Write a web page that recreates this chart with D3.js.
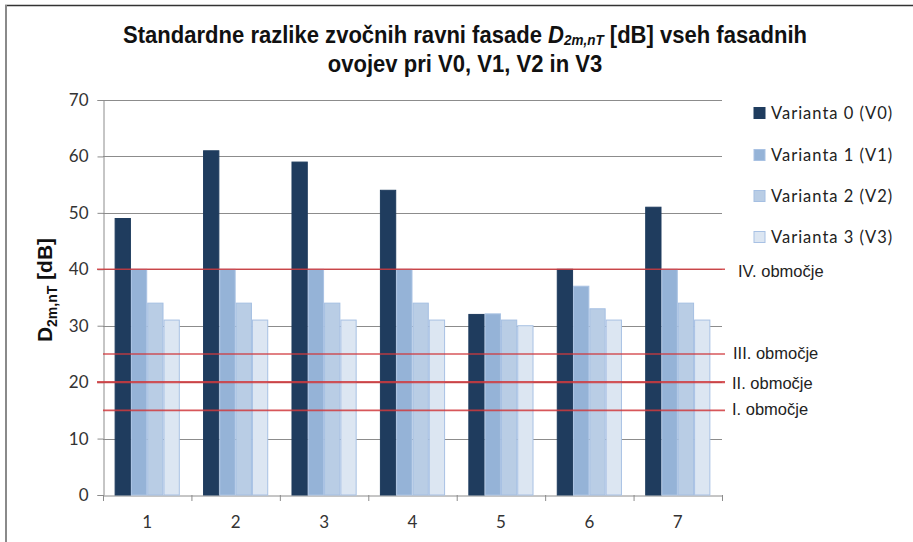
<!DOCTYPE html>
<html><head><meta charset="utf-8">
<script src="https://cdn.jsdelivr.net/npm/d3@7"></script>
<style>body{margin:0;background:#fff}svg{display:block}</style>
</head><body>
<svg id="c" width="913" height="542"></svg>
<script>
const categories = ["1","2","3","4","5","6","7"];
const seriesNames = ["Varianta 0 (V0)","Varianta 1 (V1)","Varianta 2 (V2)","Varianta 3 (V3)"];
const v0 = [49,61,59,54,32,40,51];
const v1 = [40,40,40,40,32.1,37,40];
const v2 = [34,34,34,34,31,33,34];
const v3 = [31,31,31,31,30,31,31];
const yTicks = [0,10,20,30,40,50,60,70];
const zoneValues = [40,25,20,15];
const zoneLabels = ["IV. območje","III. območje","II. območje","I. območje"];
const colors = ["#1f3c5e","#95b3d7","#b9cde5","#dce6f2"];
const strokes = ["#1f3c5e","#a9c2e3","#a5bfe2","#a8c1e4"];

const series = [v0,v1,v2,v3];
const svg = d3.select("#c");
const L=103,R=722,T=100,B=495;

// frame
svg.append("line").attr("x1",5).attr("x2",913).attr("y1",5.5).attr("y2",5.5).attr("stroke","#333").attr("stroke-width",1.5);
svg.append("line").attr("x1",6).attr("x2",6).attr("y1",5).attr("y2",542).attr("stroke","#8a8a8a").attr("stroke-width",2);

const y = d3.scaleLinear().domain([0,70]).range([B,T]);
const x0 = d3.scaleBand().domain(categories).range([L,R]).paddingInner(0.263).paddingOuter(0.1315);
const x1 = d3.scaleBand().domain(d3.range(4)).range([0,x0.bandwidth()]);
const xc = d3.scaleBand().domain(categories).range([L,R]);

// gridlines
svg.append("g").selectAll("line").data(yTicks.filter(d=>d>0)).join("line")
  .attr("x1",L).attr("x2",R).attr("y1",d=>Math.round(y(d))+0.5).attr("y2",d=>Math.round(y(d))+0.5)
  .attr("stroke","#8c8c8c").attr("stroke-width",1);

// y axis
const ya = svg.append("g").attr("transform",`translate(${L+0.5},0)`)
  .call(d3.axisLeft(y).tickValues(yTicks).tickSize(6).tickPadding(9));
ya.select(".domain").attr("stroke","#8c8c8c");
ya.selectAll(".tick line").attr("stroke","#8c8c8c");
ya.selectAll("text").attr("font-family","Lato, 'Open Sans', sans-serif").attr("font-size",17).attr("fill","#333");

// x axis
const xa = svg.append("g").attr("transform",`translate(0,${B+0.5})`)
  .call(d3.axisBottom(xc).tickSize(0).tickPadding(20));
xa.select(".domain").attr("stroke","#8c8c8c");
xa.selectAll("text").attr("font-family","Lato, 'Open Sans', sans-serif").attr("font-size",17).attr("fill","#333");
svg.append("g").selectAll("line").data(d3.range(categories.length+1)).join("line")
  .attr("x1",i=>L+i*xc.step()+0.5).attr("x2",i=>L+i*xc.step()+0.5)
  .attr("y1",B).attr("y2",B+6).attr("stroke","#8c8c8c");

// bars
const g = svg.append("g");
series.forEach((s,si)=>{
  g.append("g").selectAll("rect").data(s).join("rect")
   .attr("x",(d,i)=>x0(categories[i])+x1(si)+0.5)
   .attr("width",x1.bandwidth()-1)
   .attr("y",d=>y(d))
   .attr("height",d=>B-y(d))
   .attr("fill",colors[si]).attr("stroke",strokes[si]).attr("stroke-width",1);
});

// zone lines
const zStart = [97,103,97,103];
svg.append("g").selectAll("line").data(zoneValues).join("line")
  .attr("x1",(d,i)=>zStart[i]).attr("x2",725)
  .attr("y1",d=>y(d)).attr("y2",d=>y(d))
  .attr("stroke","#d0393d").attr("stroke-opacity",0.85).attr("stroke-width",(d,i)=>i===2?2.2:1.6);
const zLabelX=[738,733,732,732], zLabelDy=[2,-1,1,-1];
svg.append("g").selectAll("text").data(zoneValues).join("text")
  .attr("x",(d,i)=>zLabelX[i]).attr("y",(d,i)=>y(d)+zLabelDy[i])
  .attr("dy","0.35em")
  .attr("font-family","'Liberation Sans', Arial, sans-serif").attr("font-size",16.5).attr("fill","#222")
  .text((d,i)=>zoneLabels[i]);

// legend
const legY=[113,155,196,237];
const lg = svg.append("g");
seriesNames.forEach((n,i)=>{
  lg.append("rect").attr("x",754).attr("y",legY[i]-5.5).attr("width",11).attr("height",11)
    .attr("fill",colors[i]).attr("stroke",strokes[i]);
  lg.append("text").attr("x",771).attr("y",legY[i]).attr("dy","0.35em")
    .attr("font-family","Lato, 'Open Sans', sans-serif").attr("font-size",16.5).attr("fill","#222")
    .attr("letter-spacing",1).text(n);
});

// y label
const yl = svg.append("text").attr("transform","translate(52,290) rotate(-90)")
  .attr("text-anchor","middle").attr("font-family","'Liberation Sans', Arial, sans-serif")
  .attr("font-weight","bold").attr("font-size",21).attr("fill","#111");
yl.append("tspan").text("D");
yl.append("tspan").attr("font-size",14).attr("dy",5).text("2m,nT");
yl.append("tspan").attr("dy",-5).text(" [dB]");

// title
const tf="'Liberation Sans', Arial, sans-serif";
const tg = svg.append("g").attr("transform","translate(465,0) scale(0.9,1)");
const t1 = tg.append("text").attr("x",0).attr("y",43).attr("text-anchor","middle")
  .attr("font-family",tf).attr("font-weight","bold").attr("font-size",24.5).attr("fill","#111");
t1.append("tspan").text("Standardne razlike zvočnih ravni fasade ");
t1.append("tspan").attr("font-style","italic").text("D");
t1.append("tspan").attr("font-style","italic").attr("font-size",15).attr("dy",2).text("2m,nT");
t1.append("tspan").attr("dy",-2).text(" [dB] vseh fasadnih");
tg.append("text").attr("x",0).attr("y",72).attr("text-anchor","middle")
  .attr("font-family",tf).attr("font-weight","bold").attr("font-size",24.5).attr("fill","#111")
  .text("ovojev pri V0, V1, V2 in V3");
</script>
</body></html>
